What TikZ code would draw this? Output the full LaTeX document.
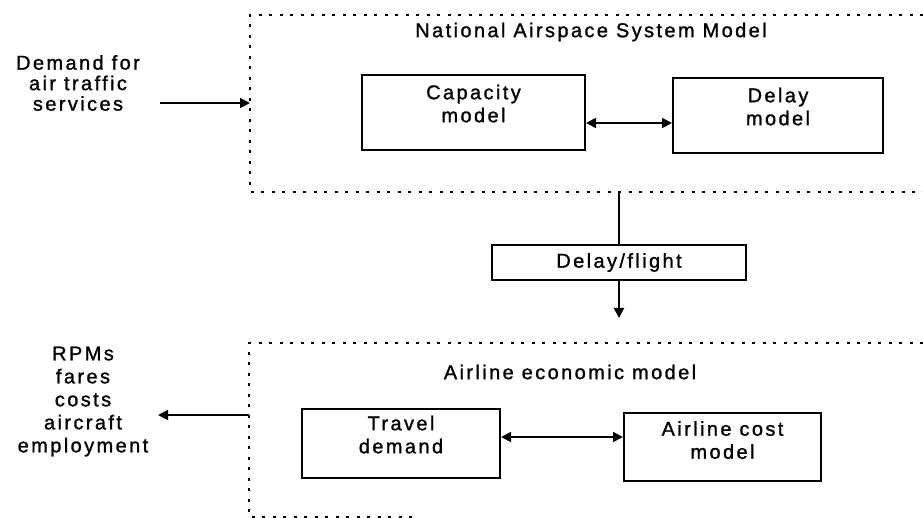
\documentclass[tikz,border=0pt]{standalone}
\usepackage{fontspec}
\setmainfont{Liberation Sans}[LetterSpace=12,FakeBold=1.2]
\usepackage{tikz}
\usetikzlibrary{arrows.meta}
\tikzset{model/.style={rectangle,draw,line width=2pt,align=center,text depth=18pt,inner sep=3pt},
         tag/.style={rectangle,draw,line width=2pt,align=center,inner sep=3pt},
         label/.style={align=center,inner sep=0pt},
         frame/.style={line width=1.8pt,dash pattern=on 3pt off 7.5pt},
         arrow/.style={-{Triangle[length=10pt,width=10pt]},line width=1.8pt},
         twoway/.style={{Triangle[length=10pt,width=10pt]}-{Triangle[length=10pt,width=10pt]},line width=1.8pt}}

\begin{document}
\begin{tikzpicture}[x=1pt,y=-1pt,font=\fontsize{20}{23}\selectfont]
    \useasboundingbox (0,0) rectangle (923,518);
    % outer frames
    \coordinate (nasNW) at (250,15);
    \coordinate (nasSW) at (250,192);
    \coordinate (aemNW) at (249,343);
    \coordinate (aemSW) at (249,517);
    \draw[frame] (923,15) -- (nasNW) -- (nasSW) -- (923,192);
    \draw[frame] (923,343) -- (aemNW) -- (aemSW) -- (413,517);
    \node (nasT) [label] at (591,32) {National Airspace System Model};
    \node (aemT) [label] at (570,372) {Airline economic model};
    % inner models
    \node (cap) [model, minimum width=223pt, minimum height=75pt] at (473.5,112.5) {Capacity\\model};
    \node (dly) [model, minimum width=210pt, minimum height=75pt] at (778,115.5) {Delay\\model};
    \node (trv) [model, minimum width=198pt, minimum height=69pt] at (401,443.5) {Travel\\demand};
    \node (cst) [model, minimum width=197pt, minimum height=68pt, text depth=14pt] at (722.5,447) {Airline cost\\model};
    \node (flt) [tag, minimum width=254pt, minimum height=35pt] at (619,262.5) {Delay/flight};
    % inputs and outputs
    \node (dem) [label, font=\fontsize{20}{20.5}\selectfont] at (78,83) {Demand for\\air traffic\\services};
    \node (out) [label] at (83,401.5) {RPMs\\fares\\costs\\aircraft\\employment};
    \coordinate (inA) at (160,103);
    \coordinate (outA) at (158,415);
    \coordinate (nasS) at (619,192);
    \coordinate (fltE) at (619,318);
    \draw[arrow] (inA) -- (inA -| nasNW);
    \draw[arrow] (outA -| aemNW) -- (outA);
    \draw[twoway] ([yshift=-10.5pt]cap.east) -- ([yshift=-10.5pt]cap.east -| dly.west);
    \draw[twoway] ([yshift=6.5pt]trv.east) -- ([yshift=6.5pt]trv.east -| cst.west);
    \draw[line width=1.8pt] (nasS) -- (flt.north);
    \draw[arrow] (flt.south) -- (fltE);
\end{tikzpicture}
\end{document}
